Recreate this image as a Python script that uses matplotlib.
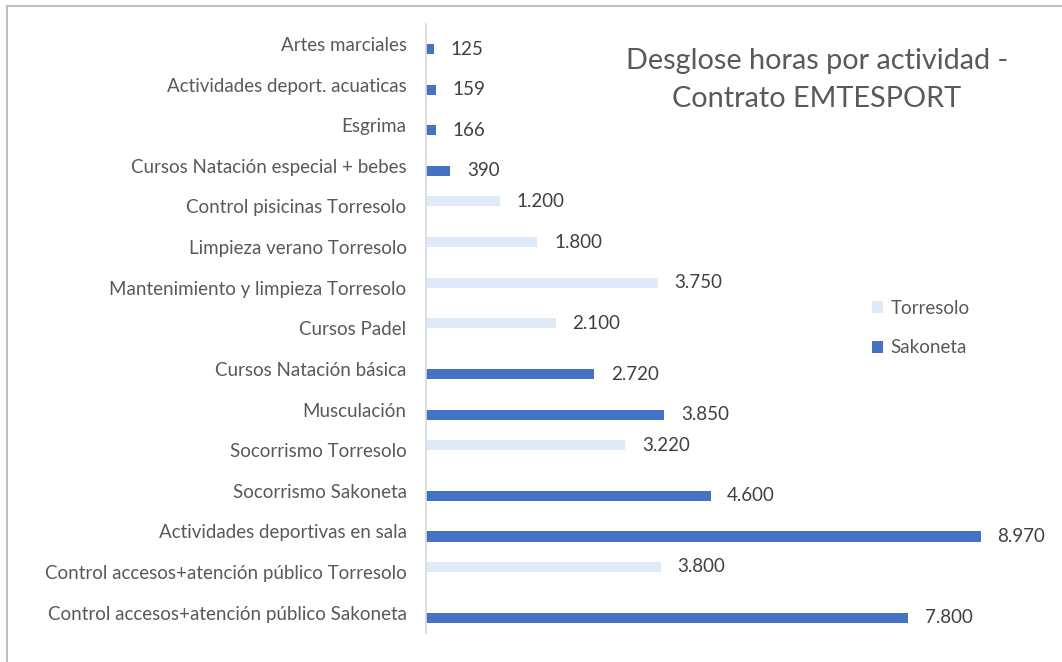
import matplotlib
matplotlib.use("Agg")
import matplotlib.pyplot as plt
from matplotlib.patches import Rectangle

# categories from bottom to top
categories = [
    "Control accesos+atención público Sakoneta",
    "Control accesos+atención público Torresolo",
    "Actividades deportivas en sala",
    "Socorrismo Sakoneta",
    "Socorrismo Torresolo",
    "Musculación",
    "Cursos Natación básica",
    "Cursos Padel",
    "Mantenimiento y limpieza Torresolo",
    "Limpieza verano Torresolo",
    "Control pisicinas Torresolo",
    "Cursos Natación especial + bebes",
    "Esgrima",
    "Actividades deport. acuaticas",
    "Artes marciales",
]
torresolo = [0, 3800, 0, 0, 3220, 0, 0, 2100, 3750, 1800, 1200, 0, 0, 0, 0]
sakoneta = [7800, 0, 8970, 4600, 0, 3850, 2720, 0, 0, 0, 0, 390, 166, 159, 125]

c_torr = "#DEEBF7"
c_sako = "#4472C4"
txt = "#595959"

plt.rcParams['font.family'] = ['Lato', 'DejaVu Sans']

fig = plt.figure(figsize=(10.62, 6.62), dpi=100)
W, H = 1062, 662
ax = fig.add_axes([426 / W, 1 - 633 / H, (1044.5 - 426) / W, (633 - 23.7) / H])

# chart border (only top and left visible)
fig.patches.append(Rectangle((7 / W, -0.5), 1.5, 1.5 - 6 / H, transform=fig.transFigure,
                             fill=False, edgecolor="#BFBFBF", linewidth=1.5))

y = list(range(len(categories)))
h = 0.25
ax.barh([v + h / 2 for v in y], torresolo, height=h, color=c_torr, label="Torresolo")
ax.barh([v - h / 2 for v in y], sakoneta, height=h, color=c_sako, label="Sakoneta")

def fmt(v):
    return f"{v:,}".replace(",", ".")

for i in y:
    if torresolo[i]:
        ax.annotate(fmt(torresolo[i]), (torresolo[i], i + h / 2), xytext=(12, 0),
                    textcoords="offset points", va="center", ha="left", fontsize=13.5, color="#404040")
    if sakoneta[i]:
        ax.annotate(fmt(sakoneta[i]), (sakoneta[i], i - h / 2), xytext=(12, 0),
                    textcoords="offset points", va="center", ha="left", fontsize=13.5, color="#404040")

ax.set_xlim(0, 10000)
ax.set_ylim(-0.5, len(categories) - 0.5)
ax.set_yticks(y)
ax.set_yticklabels(categories, fontsize=13.5, color=txt)
ax.tick_params(axis="y", length=0, pad=14)
ax.set_xticks([])
for s in ["top", "right", "bottom"]:
    ax.spines[s].set_visible(False)
ax.spines["left"].set_color("#D9D9D9")
ax.spines["left"].set_linewidth(1.2)

fig.text(817 / W, 1 - 80 / H, "Desglose horas por actividad -\nContrato EMTESPORT",
         ha="center", va="center", fontsize=20.8, color=txt, linespacing=1.6)

ax.legend(handles=[ax.containers[0], ax.containers[1]],
          labels=["Torresolo", "Sakoneta"], loc="center left",
          bbox_to_anchor=(855 / W, 1 - 328 / H), bbox_transform=fig.transFigure,
          frameon=False, fontsize=13.5, labelcolor=txt, handlelength=0.6, handleheight=0.6,
          handletextpad=0.4, labelspacing=1.2)

fig.savefig("out.png", dpi=100)
